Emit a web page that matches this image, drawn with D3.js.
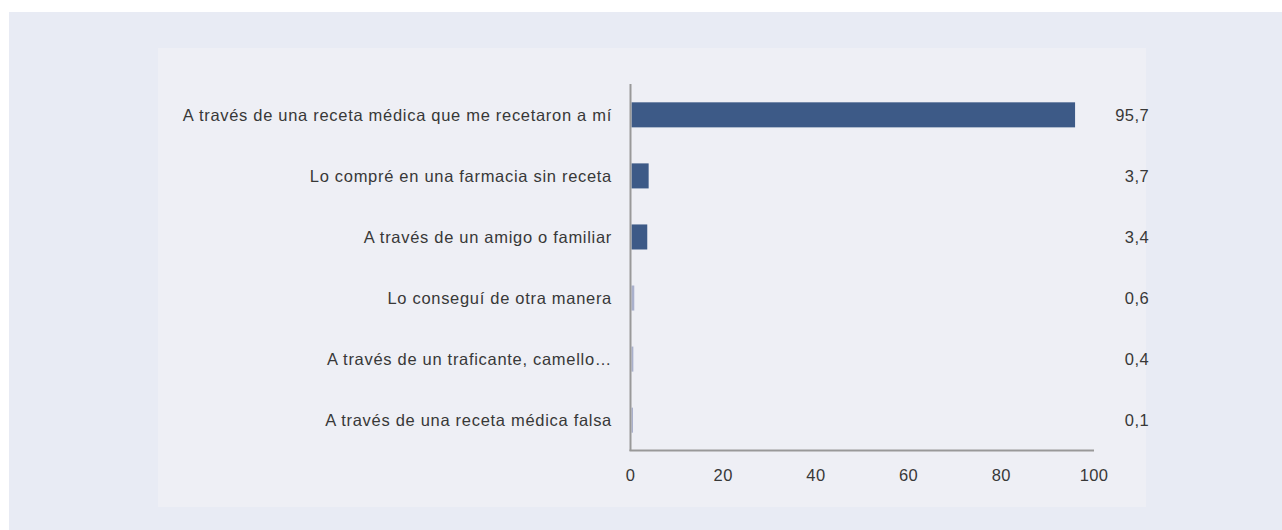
<!DOCTYPE html>
<html>
<head>
<meta charset="utf-8"/>
<script src="https://cdn.jsdelivr.net/npm/d3@7"></script>
<title>Bar chart</title>
<style>
body { margin: 0; background: #fff; }
text {
  font-family: "Liberation Sans", Arial, sans-serif;
  font-size: 16.5px;
  fill: #383838;
}
text.cat { letter-spacing: 0.7px; }
text.val, text.tick { letter-spacing: 0.4px; }
</style>
</head>
<body>
<svg width="1282" height="530"></svg>
<script>
var categories = [
  "A través de una receta médica que me recetaron a mí",
  "Lo compré en una farmacia sin receta",
  "A través de un amigo o familiar",
  "Lo conseguí de otra manera",
  "A través de un traficante, camello…",
  "A través de una receta médica falsa"
];
var values = [95.7, 3.7, 3.4, 0.6, 0.4, 0.1];
var valueLabels = ["95,7", "3,7", "3,4", "0,6", "0,4", "0,1"];
var ticks = [0, 20, 40, 60, 80, 100];

var svg = d3.select("svg");

// backgrounds
svg.append("rect").attr("x", 9).attr("y", 12).attr("width", 1273).attr("height", 518).attr("fill", "#e8ebf4");
svg.append("rect").attr("x", 158).attr("y", 48).attr("width", 988).attr("height", 459).attr("fill", "#eeeff5");

var x = d3.scaleLinear().domain([0, 100]).range([630.5, 1094]);
var y = d3.scaleBand().domain(categories).range([84, 451]).paddingInner(0.59).paddingOuter(0.3);

var g = svg.append("g");

// bars
g.selectAll("rect.bar")
  .data(values)
  .enter().append("rect")
    .attr("class", "bar")
    .attr("x", x(0) + 1)
    .attr("y", function(d, i) { return y(categories[i]); })
    .attr("width", function(d) { return Math.max(x(d) - x(0), 1.5); })
    .attr("height", y.bandwidth())
    .attr("fill", function(d) { return d < 1 ? "#a9b0cc" : "#3d5a87"; });

// category labels
g.selectAll("text.cat")
  .data(categories)
  .enter().append("text")
    .attr("class", "cat")
    .attr("x", 612)
    .attr("y", function(d) { return y(d) + y.bandwidth() / 2; })
    .attr("dy", "0.35em")
    .attr("text-anchor", "end")
    .text(function(d) { return d; });

// value labels
g.selectAll("text.val")
  .data(valueLabels)
  .enter().append("text")
    .attr("class", "val")
    .attr("x", 1149)
    .attr("y", function(d, i) { return y(categories[i]) + y.bandwidth() / 2; })
    .attr("dy", "0.35em")
    .attr("text-anchor", "end")
    .text(function(d) { return d; });

// axes lines
g.append("line").attr("x1", x(0)).attr("x2", x(0)).attr("y1", 84).attr("y2", 451)
  .attr("stroke", "#999").attr("stroke-width", 2);
g.append("line").attr("x1", x(0) - 1).attr("x2", x(100)).attr("y1", 450.5).attr("y2", 450.5)
  .attr("stroke", "#999").attr("stroke-width", 2);

// tick labels
g.selectAll("text.tick")
  .data(ticks)
  .enter().append("text")
    .attr("class", "tick")
    .attr("x", function(d) { return x(d); })
    .attr("y", 475)
    .attr("dy", "0.35em")
    .attr("text-anchor", "middle")
    .text(function(d) { return d; });
</script>
</body>
</html>
